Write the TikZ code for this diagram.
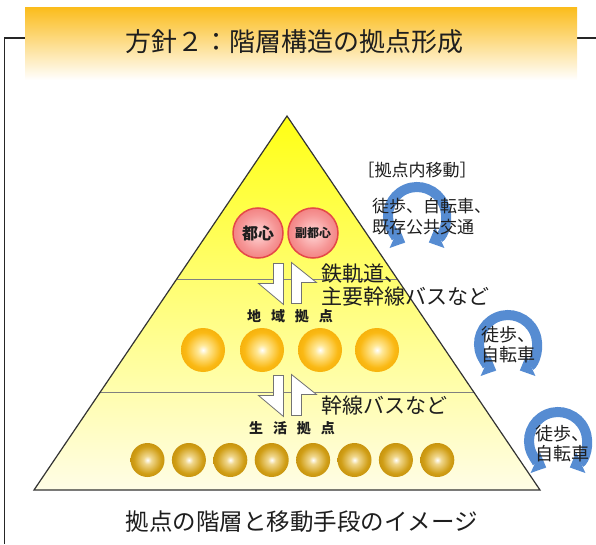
\documentclass[tikz,border=0pt]{standalone}
\usepackage{fontspec}
\setmainfont{Noto Sans CJK JP}
\usetikzlibrary{arrows.meta, positioning}

\definecolor{bannerorange}{RGB}{251,189,30}
\definecolor{ringblue}{RGB}{86,140,210}
\definecolor{textgray}{RGB}{30,30,30}
\definecolor{rimred}{RGB}{228,72,72}
\definecolor{pyrtop}{RGB}{255,255,20}
\definecolor{pyrmid}{RGB}{255,255,130}
\definecolor{pyrbot}{RGB}{255,253,230}
\definecolor{redin}{RGB}{255,215,215}
\definecolor{redmid}{RGB}{246,150,150}
\definecolor{redout}{RGB}{238,105,105}
\definecolor{goldin}{RGB}{255,232,150}
\definecolor{goldmid}{RGB}{250,185,20}
\definecolor{goldout}{RGB}{240,165,0}
\definecolor{darkin}{RGB}{240,215,140}
\definecolor{darkmid}{RGB}{208,158,22}
\definecolor{darkout}{RGB}{185,130,0}

\pgfdeclareradialshading{redball}{\pgfpoint{0bp}{0bp}}{%
  color(0bp)=(redin); color(18bp)=(redmid); color(35bp)=(redout); color(50bp)=(redout)}
\pgfdeclareradialshading{goldball}{\pgfpoint{0bp}{0bp}}{%
  color(0bp)=(white); color(6bp)=(goldin); color(20bp)=(goldmid); color(35bp)=(goldout); color(50bp)=(goldout)}
\pgfdeclareradialshading{darkball}{\pgfpoint{0bp}{0bp}}{%
  color(0bp)=(white); color(6bp)=(darkin); color(20bp)=(darkmid); color(35bp)=(darkout); color(50bp)=(darkout)}

\tikzset{
  toshi/.style={circle, minimum size=50pt, inner sep=0pt, shading=redball, draw=rimred, line width=1.5pt, text=textgray},
  chiiki/.style={circle, minimum size=44pt, inner sep=0pt, shading=goldball},
  seikatsu/.style={circle, minimum size=34pt, inner sep=0pt, shading=darkball},
  note/.style={text=textgray, align=left, inner sep=0pt, font=\fontsize{21}{23}\selectfont},
  smallnote/.style={text=textgray, align=left, inner sep=0pt, font=\fontsize{17}{21}\selectfont},
  levelname/.style={text=textgray, inner sep=0pt, font=\fontsize{14}{14}\selectfont\bfseries},
  ring/.style={ringblue, line width=10pt, {Triangle[width=22pt,length=12pt]}-{Triangle[width=22pt,length=12pt]}},
  divider/.style={draw=gray, line width=0.8pt},
  halfarrow/.style={fill=white, draw=gray!90!black, line width=0.8pt, line join=miter},
  koutsu/.pic={
    \draw[halfarrow] (-14,20) -- (-4,20) -- (-4,-21) -- (-29,0) -- (-14,0) -- cycle;
    \draw[halfarrow] (4,21) -- (29,1) -- (14,1) -- (14,-20) -- (4,-20) -- cycle;
  },
}

\begin{document}
\begin{tikzpicture}[x=1pt, y=1pt]
  \useasboundingbox (0,0) rectangle (596,544);

  % frame and title
  \draw[line width=1.4pt, black!85] (596,506) -- (4.5,506) -- (4.5,0);
  \node[rectangle, minimum width=552pt, minimum height=72pt, inner sep=0pt,
        top color=bannerorange, middle color=bannerorange!35!white, bottom color=white] (banner) at (301,500) {};
  \node[text=textgray, font=\fontsize{26}{26}\selectfont] (title) at (294,502) {方針２：階層構造の拠点形成};

  % pyramid
  \coordinate (apex) at (287,428);
  \coordinate (bl) at (34,54);
  \coordinate (br) at (540,54);
  \shade[top color=pyrtop, middle color=pyrmid, bottom color=pyrbot] (apex) -- (br) -- (bl) -- cycle;
  \begin{scope}
    \clip (apex) -- (br) -- (bl) -- cycle;
    \draw[divider] (0,265) -- (596,265);
    \draw[divider] (0,152) -- (596,152);
  \end{scope}
  \draw[line width=1.2pt, black!80] (apex) -- (br) -- (bl) -- cycle;

  % hubs
  \node[toshi, font=\fontsize{16}{16}\selectfont\bfseries] (toshin) at (258,311) {都心};
  \node[toshi, font=\fontsize{12}{12}\selectfont\bfseries] (fukutoshin) at (313,311) {副都心};
  \foreach \x [count=\i] in {203,262,320,377}
    \node[chiiki] (chiiki\i) at (\x,194) {};
  \foreach \i in {1,...,8}
    \node[seikatsu] (seikatsu\i) at ({147.5+41.4*(\i-1)},84) {};

  % links between levels
  \pic at (287.5,260.5) {koutsu};
  \pic at (287.5,148.5) {koutsu};
  \node[note, anchor=west] (tetsudo) at (321,259) {鉄軌道、\\主要幹線バスなど};
  \node[note, anchor=west] (kansen) at (321,138) {幹線バスなど};
  \node[levelname] (chiikiTxt) at (290,228) {地\hspace{10pt}域\hspace{10pt}拠\hspace{10pt}点};
  \node[levelname] (seikatsuTxt) at (292,116) {生\hspace{10pt}活\hspace{10pt}拠\hspace{10pt}点};

  % movement inside hubs
  \draw[ring] (417,328) ++(-66:29) arc[start angle=-66, end angle=246, radius=29];
  \node[smallnote] (naibu) at (417,374) {［拠点内移動］};
  \node[smallnote, anchor=west] (toho1) at (372,327) {徒歩、自転車、\\既存公共交通};

  \draw[ring] (508,200) ++(-66:29) arc[start angle=-66, end angle=246, radius=29];
  \node[smallnote, font=\fontsize{18}{20}\selectfont] (toho2) at (508,199) {徒歩、\\自転車};

  \draw[ring] (558,103) ++(-66:29) arc[start angle=-66, end angle=246, radius=29];
  \node[smallnote, font=\fontsize{18}{20}\selectfont] (toho3) at (562,100) {徒歩、\\自転車};

  % caption
  \node[text=textgray, font=\fontsize{23.5}{24}\selectfont] (caption) at (302,22) {拠点の階層と移動手段のイメージ};
\end{tikzpicture}
\end{document}
